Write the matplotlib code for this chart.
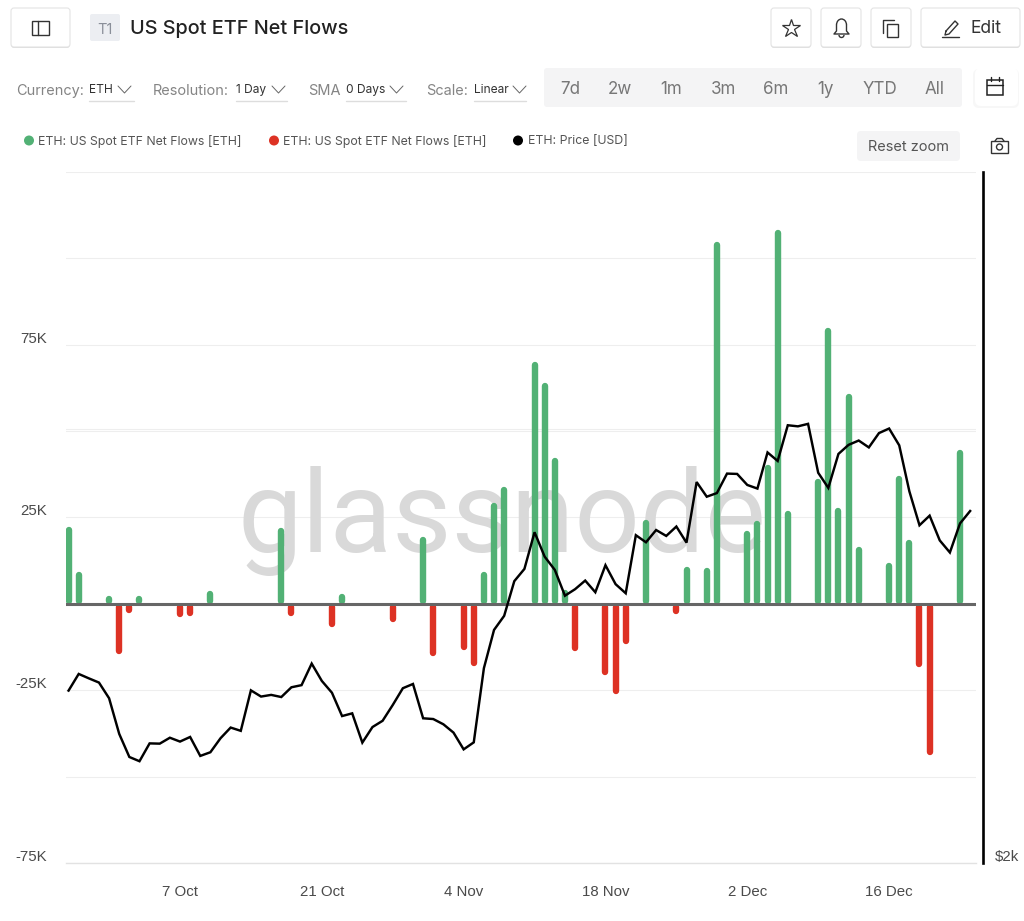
import numpy as np
import pandas as pd
import matplotlib
matplotlib.use("Agg")
import matplotlib.pyplot as plt
import matplotlib.dates as mdates
from matplotlib.patches import FancyBboxPatch, Rectangle, Circle, Arc
from matplotlib.transforms import blended_transform_factory, ScaledTranslation

plt.rcParams['font.family'] = ['Inter', 'DejaVu Sans']

# ---------- data ----------
flow_dates = ["2024-09-26","2024-09-27","2024-09-30","2024-10-01","2024-10-02","2024-10-03",
 "2024-10-07","2024-10-08","2024-10-10","2024-10-11","2024-10-14","2024-10-15","2024-10-16",
 "2024-10-17","2024-10-18","2024-10-21","2024-10-22","2024-10-23","2024-10-24","2024-10-28",
 "2024-10-29","2024-10-30","2024-10-31","2024-11-01","2024-11-04","2024-11-05","2024-11-06",
 "2024-11-07","2024-11-08","2024-11-11","2024-11-12","2024-11-13","2024-11-14","2024-11-15",
 "2024-11-18","2024-11-19","2024-11-20","2024-11-21","2024-11-22","2024-11-25","2024-11-26",
 "2024-11-27","2024-11-28","2024-11-29","2024-12-02","2024-12-03","2024-12-04","2024-12-05",
 "2024-12-06","2024-12-09","2024-12-10","2024-12-11","2024-12-12","2024-12-13","2024-12-16",
 "2024-12-17","2024-12-18","2024-12-19","2024-12-20","2024-12-23"]
flow_values = [22300,9300,2200,-14600,-2700,2200,
 -3800,-3500,3900,300,1900,1100,1500,
 22000,-3500,1100,-6700,2800,1100,-5400,
 1300,-1200,19300,-15200,-13400,-18000,9200,
 29300,34000,70100,64000,42300,4100,-13800,
 -20600,-26000,-11600,-700,24300,-3000,10600,
 -1500,10300,104800,21100,24000,40200,108400,
 26800,36300,80000,27800,60800,16400,11800,
 37000,18600,-18300,-43900,44600]

price_start = "2024-09-26"
price_values = [2634,2705,2686,2668,2602,2458,2369,2353,2421,2420,2443,2428,2446,2373,2387,2441,
 2483,2470,2635,2609,2616,2607,2648,2657,2750,2675,2625,2529,2540,2424,2485,2510,
 2574,2644,2662,2520,2517,2496,2463,2398,2425,2730,2902,2968,3137,3199,3392,3262,
 3194,3065,3097,3140,3082,3218,3122,3077,3376,3338,3404,3372,3423,3336,3675,3590,
 3611,3725,3723,3658,3637,3853,3801,4024,4017,4033,3730,3641,3844,3900,3927,3884,
 3974,4003,3897,3621,3430,3483,3348,3284,3440,3509]

flow_ticks = [-75000,-50000,-25000,0,25000,50000,75000,100000,125000]
flow_tick_labels = ["-75K","","-25K","","25K","","75K","",""]
date_ticks = ["2024-10-07","2024-10-21","2024-11-04","2024-11-18","2024-12-02","2024-12-16"]
date_tick_labels = ["7 Oct","21 Oct","4 Nov","18 Nov","2 Dec","16 Dec"]
legend_labels = ["ETH: US Spot ETF Net Flows [ETH]","ETH: US Spot ETF Net Flows [ETH]","ETH: Price [USD]"]
ranges = ["7d","2w","1m","3m","6m","1y","YTD","All"]

GREEN = "#52b175"
RED = "#dd3224"
TICK_FONT = "Liberation Sans"
W, H = 1024, 921

def fs(px):
    return px * 0.72

fig = plt.figure(figsize=(W/100, H/100), dpi=100, facecolor="white")

def rect_px(l, t, r, b):
    return [l/W, 1-b/H, (r-l)/W, (b-t)/H]

# ---------- chart ----------
ax = fig.add_axes(rect_px(66, 172, 976, 863))
ax.set_facecolor("none")
ax.set_ylim(-75000, 125000)
x0 = mdates.date2num(pd.Timestamp("2024-10-07"))
ax.set_xlim(x0 - 114/10.13, x0 + 796/10.13)

ax.set_yticks(flow_ticks)
ax.set_yticklabels(flow_tick_labels, fontsize=fs(15), color="#4a4a4a", family=TICK_FONT)
ax.set_xticks(mdates.date2num(pd.to_datetime(date_ticks)))
ax.set_xticklabels(date_tick_labels, fontsize=fs(15), color="#4a4a4a", family=TICK_FONT)
ax.tick_params(axis="y", length=0, pad=13.5)
ax.tick_params(axis="x", length=0, pad=16)
shift = ScaledTranslation(0, -0.7/72, fig.dpi_scale_trans)
for lab in ax.get_yticklabels():
    lab.set_verticalalignment("bottom")
    lab.set_transform(lab.get_transform() + shift)
ax.grid(axis="y", color="#eeeeee", lw=0.8, zorder=0)
ax.set_axisbelow(True)
for s in ["top", "left", "right"]:
    ax.spines[s].set_visible(False)
ax.spines["bottom"].set_color("#e2e2e2")
ax.spines["bottom"].set_linewidth(1.0)

ax.text((502-66)/910, (863-552)/691, "glassnode", transform=ax.transAxes, fontsize=fs(115),
        color="#d9d9d9", family="Roboto", weight="normal", ha="center", va="baseline", zorder=1)

# bars: the round tip ends on the value
xs = mdates.date2num(pd.to_datetime(flow_dates))
vals = np.array(flow_values, dtype=float)
r = 3.2 * 200000 / 691
sign = np.sign(vals)
tips = vals - sign*r
bases = tips - sign*np.maximum(np.abs(vals) - 2*r, 60)
lw = 6.4 * 0.72
for mask, col in ((vals >= 0, GREEN), (vals < 0, RED)):
    ax.vlines(xs[mask], bases[mask], tips[mask], colors=col, linewidth=lw, capstyle="round", zorder=2)
ax.axhline(0, color="#666666", lw=2.2, zorder=3)

# price on log right axis
ax2 = ax.twinx()
ax2.spines["right"].set_position(("outward", 5.0))
ax2.set_yscale("log")
ax2.set_ylim(2000, 6030)
ax2.set_yticks([2000])
ax2.set_yticklabels(["$2k"], fontsize=fs(15), color="#4a4a4a", family=TICK_FONT)
ax2.minorticks_off()
ax2.tick_params(axis="y", which="both", length=0, pad=8.7)
for tick in ax2.yaxis.get_major_ticks():
    tick.label2.set_verticalalignment("bottom")
    tick.label2.set_transform(tick.label2.get_transform() + shift)
for s in ["top", "left", "bottom"]:
    ax2.spines[s].set_visible(False)
ax2.spines["right"].set_color("black")
ax2.spines["right"].set_linewidth(1.9)
px = mdates.date2num(pd.date_range(price_start, periods=len(price_values), freq="D"))
ax2.plot(px, price_values, color="black", lw=1.75, solid_joinstyle="miter", zorder=5)
ax2.set_xlim(ax.get_xlim())
ax.plot([0, 1], [4000, 4000], transform=blended_transform_factory(ax.transAxes, ax2.transData),
        color="#eeeeee", lw=0.8, zorder=0.5)

# ---------- page chrome (pixel coordinates) ----------
ui = fig.add_axes([0, 0, 1, 1], zorder=5)
ui.set_xlim(0, W)
ui.set_ylim(H, 0)
ui.axis("off")
ui.patch.set_alpha(0)

def box(l, t, r, b, fc="white", ec="none", rad=3, lw=0.8, z=1):
    ui.add_patch(FancyBboxPatch((l+rad, t+rad), r-l-2*rad, b-t-2*rad,
                                boxstyle=f"round,pad={rad},rounding_size={rad}",
                                fc=fc, ec=ec, lw=lw, zorder=z))

def btn(l, r):
    box(l, 9, r, 48, fc="#dddddd", z=1)
    box(l, 8, r, 47, fc="white", ec="#e4e4e4", z=2)

def line(xs_, ys_, c="#333333", w=1.0):
    ui.plot(xs_, ys_, color=c, lw=w, zorder=4, solid_capstyle="round", solid_joinstyle="round")

def txt(x, y, s, size, c="#333333", ha="left", weight="normal"):
    ui.text(x, y + 1.5, s, fontsize=fs(size), color=c, ha=ha, va="center", weight=weight, zorder=5)

def chevron(l, y):
    line([l, l+6.5, l+13], [y-4, y+3, y-4], c="#666666", w=0.7)

btn(11, 70)
ui.add_patch(Rectangle((32, 21), 17, 14, fc="none", ec="#333333", lw=1.0, zorder=4))
line([38, 38], [21, 35])

box(90, 14, 120, 41, fc="#eceef2", rad=2)
txt(105, 28, "T1", 14.5, c="#8a8f99", ha="center")
txt(130, 27.5, "US Spot ETF Net Flows", 19.9, c="#222222", weight="medium")

btn(771, 811)
btn(821, 861)
btn(871, 911)
btn(921, 1020)
ui.plot([791], [28.5], marker="*", ms=13.5, mfc="none", mec="#333333", mew=0.9, zorder=4)
# bell
ui.add_patch(Arc((841.5, 25), 10, 12, theta1=180, theta2=360, ec="#333333", lw=1.0, zorder=4))
line([836.5, 836.5, 834, 849, 846.5, 846.5], [25, 31, 34, 34, 31, 25])
ui.add_patch(Arc((841.5, 35), 5, 5, theta1=0, theta2=180, ec="#333333", lw=1.0, zorder=4))
# copy
ui.add_patch(Rectangle((887, 24), 11, 13, fc="none", ec="#333333", lw=1.0, zorder=4))
line([883, 883, 894], [33, 20, 20])
# pencil
line([946, 955, 958, 949, 945, 946], [31, 21, 24, 34, 35, 31])
line([942, 959], [37, 37])
txt(970, 27, "Edit", 17.5, c="#333333")

# filter row
for x, label, val, cx, ul in [
    (16, "Currency:", "ETH", 118, (89, 134)),
    (153, "Resolution:", "1 Day", 272, (236, 287)),
    (308, "SMA", "0 Days", 390, (346, 406)),
    (426, "Scale:", "Linear", 513, (474, 526)),
]:
    txt(x, 89.5, label, 14.5, c="#858585")
    txt(ul[0], 88.5, val, 12, c="#333333")
    chevron(cx, 90)
    line(ul, [101, 101], c="#dddddd", w=1.0)

box(544, 68, 962, 107, fc="#f4f4f5", rad=3)
for cx, lab in zip([570, 620, 671, 724, 776, 825, 880, 935], ranges):
    txt(cx, 88, lab, 17, c="#777777", ha="center")

box(973, 69, 1019, 108, fc="#f7f7f7", rad=6, z=1)
box(975, 68, 1018, 106, fc="white", rad=6, z=2)
ui.add_patch(Rectangle((987, 80), 16, 15, fc="none", ec="#222222", lw=1.1, zorder=4))
line([987, 1003], [85, 85], c="#222222")
line([991, 991], [77, 81], c="#222222")
line([999, 999], [77, 81], c="#222222")

# legend
for dot, tx, col, lab in zip([29, 274, 518], [38, 283, 528], [GREEN, RED, "black"], legend_labels):
    ui.add_patch(Circle((dot, 140.5), 5, fc=col, ec="none", zorder=4))
    txt(tx, 139.5, lab, 12.3, c="#555555")

box(857, 131, 960, 161, fc="#f4f4f5", rad=4)
txt(908, 145.5, "Reset zoom", 14.5, c="#555555", ha="center")
ui.add_patch(Rectangle((991, 141), 17, 12, fc="none", ec="#333333", lw=1.0, zorder=4))
line([995, 997, 1002, 1004], [141, 138.5, 138.5, 141])
ui.add_patch(Circle((999.5, 147), 3, fc="none", ec="#333333", lw=1.0, zorder=4))

fig.savefig("out.png", dpi=100, facecolor="white")
